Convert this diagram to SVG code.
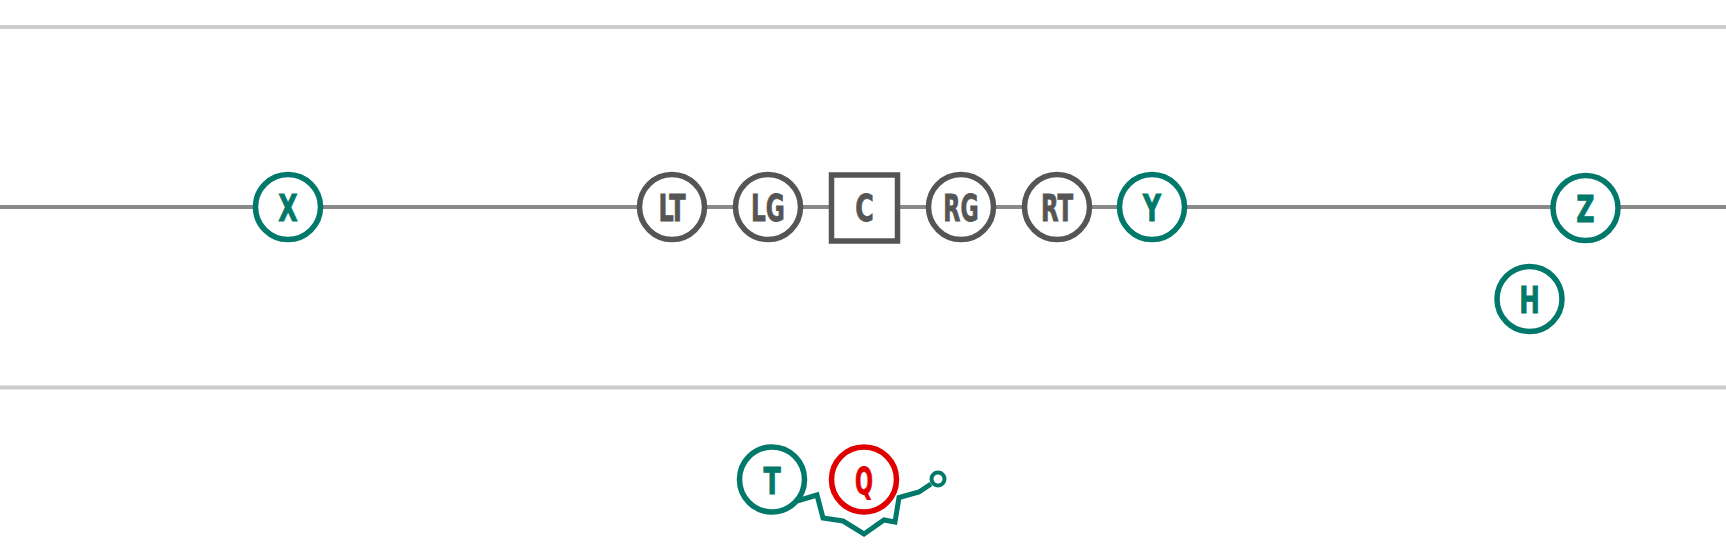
<svg xmlns="http://www.w3.org/2000/svg" width="1726" height="555" viewBox="0 0 1726 555">
<style>
.bound{stroke:#cccccc;stroke-width:4;fill:none}
.los{stroke:#8a8a8a;stroke-width:4;fill:none}
.off circle,.off rect{fill:#fff;stroke:#555555;stroke-width:5.5}
.off text{fill:#555555;stroke:#555555}
.def circle{fill:#fff;stroke:#00796b;stroke-width:5.5}
.def text{fill:#00796b;stroke:#00796b}
.qb circle{fill:#fff;stroke:#e00000;stroke-width:5.5}
.qb text{fill:#e00000;stroke:#e00000}
text{font-family:"DejaVu Sans Condensed","DejaVu Sans",sans-serif;font-weight:bold;font-size:38px;text-anchor:middle;stroke-width:0.8}
.route{stroke:#00796b;stroke-width:5;fill:none;stroke-linejoin:miter}
</style>
<g id="connectors">
<line class="bound" x1="0" y1="27" x2="1726" y2="27"/>
<line class="bound" x1="0" y1="387.5" x2="1726" y2="387.5"/>
<line class="los" x1="0" y1="207" x2="1726" y2="207"/>
<polyline class="route" points="797,501 817,495 823,518 843,521 864,534 884,520 895,522 899,497.5 919,492 931,484"/>
</g>
<g id="node-X" class="def"><circle cx="288" cy="207" r="32.5"/><text transform="translate(288 221) scale(0.74 1)">X</text></g>
<g id="node-LT" class="off"><circle cx="672" cy="207" r="32.5"/><text transform="translate(672 221) scale(0.7 1)">LT</text></g>
<g id="node-LG" class="off"><circle cx="768" cy="207" r="32.5"/><text transform="translate(768 221) scale(0.68 1)">LG</text></g>
<g id="node-C" class="off"><rect x="831.5" y="175" width="66" height="66"/><text transform="translate(864.5 221) scale(0.74 1)">C</text></g>
<g id="node-RG" class="off"><circle cx="961" cy="207" r="32.5"/><text transform="translate(961 221) scale(0.65 1)">RG</text></g>
<g id="node-RT" class="off"><circle cx="1057" cy="207" r="32.5"/><text transform="translate(1057 221) scale(0.67 1)">RT</text></g>
<g id="node-Y" class="def"><circle cx="1152" cy="207" r="32.5"/><text transform="translate(1152 221) scale(0.74 1)">Y</text></g>
<g id="node-Z" class="def"><circle cx="1585.5" cy="208" r="32.5"/><text transform="translate(1585.5 222) scale(0.74 1)">Z</text></g>
<g id="node-H" class="def"><circle cx="1529.5" cy="299" r="32.5"/><text transform="translate(1529.5 313) scale(0.72 1)">H</text></g>
<g id="node-T" class="def"><circle cx="772" cy="479.5" r="32.5"/><text transform="translate(772 493.5) scale(0.74 1)">T</text></g>
<g id="node-Q" class="qb"><circle cx="864" cy="479.5" r="32.5"/><text transform="translate(864 493.5) scale(0.62 1)">Q</text></g>
<g id="route-end" class="def"><circle cx="938" cy="479" r="6.5" style="stroke-width:4"/></g>
</svg>
